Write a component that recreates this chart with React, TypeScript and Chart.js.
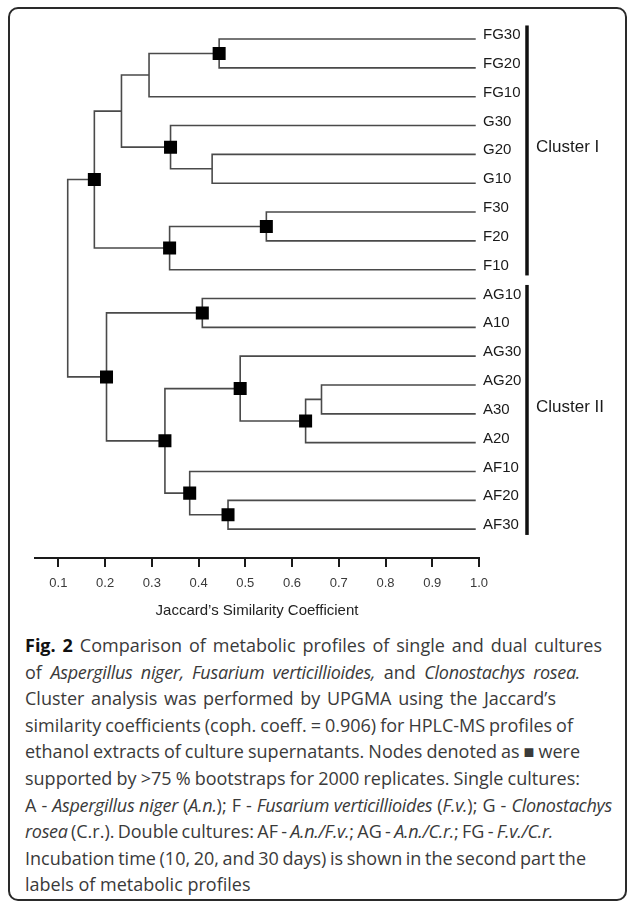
import React, { useEffect, useLayoutEffect, useRef } from "react";
import { Chart, registerables } from "chart.js";

Chart.register(...registerables);

// ---- data ----
const leafLabels = [
  "FG30", "FG20", "FG10", "G30", "G20", "G10", "F30", "F20", "F10",
  "AG10", "A10", "AG30", "AG20", "A30", "A20", "AF10", "AF20", "AF30",
];
const leafHeight = 0.993;
// merges (leaf i = i, merge k creates node 18 + k)
const mergeLeft = [0, 18, 4, 3, 19, 6, 23, 22, 9, 12, 27, 11, 16, 15, 29, 26, 25];
const mergeRight = [1, 2, 5, 20, 21, 7, 8, 24, 10, 13, 14, 28, 17, 30, 31, 32, 33];
const mergeHeight = [0.444, 0.294, 0.429, 0.34, 0.235, 0.545, 0.338, 0.177, 0.408, 0.663, 0.629, 0.489, 0.463, 0.381, 0.328, 0.203, 0.12];
const mergeBootstrap = [true, false, false, true, false, true, true, true, true, false, true, true, true, true, true, true, false];
const xTickValues = [0.1, 0.2, 0.3, 0.4, 0.5, 0.6, 0.7, 0.8, 0.9, 1.0];
const clusterNames = ["Cluster I", "Cluster II"];
const clusterFirst = [0, 9];
const clusterLast = [8, 17];

const LABEL_FONT = "Arial, 'Liberation Sans', Helvetica, sans-serif";

function buildTree() {
  const n = leafLabels.length;
  const nodeX: number[] = [];
  const nodeY: number[] = [];
  for (let i = 0; i < n; i++) {
    nodeX.push(leafHeight);
    nodeY.push(i);
  }
  const lines: { x: number; y: number }[][] = [];
  const squares: { x: number; y: number }[] = [];
  mergeLeft.forEach((a, k) => {
    const b = mergeRight[k];
    const h = mergeHeight[k];
    const y = (nodeY[a] + nodeY[b]) / 2;
    lines.push([
      { x: nodeX[a], y: nodeY[a] },
      { x: h, y: nodeY[a] },
      { x: h, y: nodeY[b] },
      { x: nodeX[b], y: nodeY[b] },
    ]);
    if (mergeBootstrap[k]) squares.push({ x: h, y });
    nodeX.push(h);
    nodeY.push(y);
  });
  return { lines, squares };
}

const clusterPlugin = {
  id: "clusterBrackets",
  afterDraw(chart: any) {
    const { ctx } = chart;
    const ys = chart.scales.y;
    const xb = chart.chartArea.right + 48;
    ctx.save();
    clusterNames.forEach((name, i) => {
      const top = ys.getPixelForValue(clusterFirst[i] - 0.47);
      const bot = ys.getPixelForValue(clusterLast[i] + 0.2);
      ctx.fillStyle = "#111";
      ctx.fillRect(xb - 1.75, top, 3.5, bot - top);
      ctx.font = `17px ${LABEL_FONT}`;
      ctx.fillStyle = "#1a1a1a";
      ctx.textAlign = "left";
      ctx.textBaseline = "middle";
      ctx.fillText(name, xb + 9, (top + bot) / 2 - 3);
    });
    ctx.restore();
  },
};

function Dendrogram() {
  const ref = useRef<HTMLCanvasElement>(null);
  useEffect(() => {
    if (!ref.current) return;
    const { lines, squares } = buildTree();
    const datasets: any[] = [
      {
        data: squares,
        pointStyle: "rect",
        pointRadius: 9.2,
        pointBackgroundColor: "#000",
        pointBorderWidth: 0,
        showLine: false,
      },
      ...lines.map((pts) => ({
        data: pts,
        showLine: true,
        borderColor: "#4a4a4a",
        borderWidth: 1.6,
        pointRadius: 0,
        tension: 0,
      })),
    ];
    const chart = new Chart(ref.current, {
      type: "scatter",
      data: { datasets },
      options: {
        animation: false,
        responsive: false,
        events: [],
        layout: { padding: { left: 35, right: 98, top: 24.6, bottom: 7 } },
        plugins: { legend: { display: false }, tooltip: { enabled: false } },
        scales: {
          x: {
            type: "linear",
            position: "bottom",
            min: 0.05,
            max: 1.0,
            afterBuildTicks: (axis: any) => {
              axis.ticks = xTickValues.map((v) => ({ value: v }));
            },
            afterFit: (scale: any) => {
              scale.height = 65;
            },
            grid: {
              drawOnChartArea: false,
              drawTicks: true,
              tickLength: 9,
              lineWidth: 2,
              color: "#1a1a1a",
            },
            border: { display: true, width: 2, color: "#1a1a1a" },
            ticks: {
              padding: 9,
              color: "#3a3a3a",
              font: { family: LABEL_FONT, size: 13 },
              maxRotation: 0,
              autoSkip: false,
              callback: (v: any) => Number(v).toFixed(1),
            },
            title: {
              display: true,
              text: "Jaccard\u2019s Similarity Coefficient",
              color: "#222",
              font: { family: LABEL_FONT, size: 15 },
              padding: { top: 0, bottom: 3 },
            },
          },
          y: {
            type: "linear",
            position: "right",
            reverse: true,
            min: -0.5,
            max: 18,
            afterBuildTicks: (axis: any) => {
              axis.ticks = leafLabels.map((_, i) => ({ value: i }));
            },
            afterFit: (scale: any) => {
              scale.width = 50;
            },
            grid: { display: false, drawTicks: false },
            border: { display: false },
            ticks: {
              padding: 4,
              labelOffset: -4,
              color: "#1a1a1a",
              font: { family: LABEL_FONT, size: 15 },
              autoSkip: false,
              callback: (v: any) => leafLabels[Math.round(Number(v))] ?? "",
            },
          },
        },
      },
      plugins: [clusterPlugin],
    });
    return () => chart.destroy();
  }, []);
  return (
    <canvas
      ref={ref}
      width={627}
      height={630}
      style={{ position: "absolute", left: 0, top: 0, width: 627, height: 630 }}
    />
  );
}

const CAP_LEFT = 25;
// right edge (page px) of each caption line in the reference; null = natural
const captionLineEnds: (number | null)[] = [602, 580, 556, 573, 580, 580, 612, 553, 586, null];

const capStyle: React.CSSProperties = {
  position: "absolute",
  left: CAP_LEFT,
  top: 632,
  fontFamily: "'Open Sans', 'Noto Sans', sans-serif",
  fontSize: 18,
  lineHeight: "26.6px",
  color: "#3a3a3a",
  whiteSpace: "nowrap",
};

const itStyle: React.CSSProperties = { letterSpacing: "-0.3px" };

function Caption() {
  const refs = useRef<(HTMLSpanElement | null)[]>([]);
  useLayoutEffect(() => {
    const fit = () => {
      refs.current.forEach((el, i) => {
        const end = captionLineEnds[i];
        if (!el || end == null) return;
        el.style.wordSpacing = "0px";
        const w = el.getBoundingClientRect().width;
        const spaces = (el.textContent || "").split(" ").length - 1;
        if (spaces > 0) {
          const ws = (end - CAP_LEFT - w) / spaces;
          el.style.wordSpacing = `${ws}px`;
        }
      });
    };
    fit();
    if ((document as any).fonts?.ready) (document as any).fonts.ready.then(fit);
  }, []);
  const setRef = (i: number) => (el: HTMLSpanElement | null) => {
    refs.current[i] = el;
  };
  return (
    <div style={capStyle}>
      <div>
        <span ref={setRef(0)}>
          <b style={{ color: "#111" }}>Fig. 2</b> Comparison of metabolic profiles of single and dual cultures
        </span>
      </div>
      <div>
        <span ref={setRef(1)}>
          of <i style={itStyle}>Aspergillus niger, Fusarium verticillioides,</i> and <i style={itStyle}>Clonostachys rosea.</i>
        </span>
      </div>
      <div>
        <span ref={setRef(2)}>Cluster analysis was performed by UPGMA using the Jaccard’s</span>
      </div>
      <div>
        <span ref={setRef(3)}>similarity coefficients (coph. coeff. = 0.906) for HPLC-MS profiles of</span>
      </div>
      <div>
        <span ref={setRef(4)}>ethanol extracts of culture supernatants. Nodes denoted as ■ were</span>
      </div>
      <div>
        <span ref={setRef(5)}>supported by &gt;75 % bootstraps for 2000 replicates. Single cultures:</span>
      </div>
      <div>
        <span ref={setRef(6)}>
          A - <i style={itStyle}>Aspergillus niger</i> (<i style={itStyle}>A.n.</i>); F - <i style={itStyle}>Fusarium verticillioides</i> (<i style={itStyle}>F.v.</i>); G - <i style={itStyle}>Clonostachys</i>
        </span>
      </div>
      <div>
        <span ref={setRef(7)}>
          <i style={itStyle}>rosea</i> (C.r.). Double cultures: AF - <i style={itStyle}>A.n./F.v.</i>; AG - <i style={itStyle}>A.n./C.r.</i>; FG - <i style={itStyle}>F.v./C.r.</i>
        </span>
      </div>
      <div>
        <span ref={setRef(8)}>Incubation time (10, 20, and 30 days) is shown in the second part the</span>
      </div>
      <div>
        <span ref={setRef(9)}>labels of metabolic profiles</span>
      </div>
    </div>
  );
}

export default function App() {
  return (
    <div style={{ position: "relative" }}>
      <div
        style={{
          position: "fixed",
          left: 0,
          top: 0,
          width: 627,
          height: 902,
          background: "#fff",
        }}
      />
      <div
        style={{
          position: "fixed",
          left: 8,
          top: 7,
          width: 619,
          height: 894,
          boxSizing: "border-box",
          border: "2px solid #2a2a2a",
          borderRadius: 10,
        }}
      />
      <div style={{ position: "fixed", left: 0, top: 0, width: 627, height: 902 }}>
        <Dendrogram />
        <Caption />
      </div>
    </div>
  );
}
